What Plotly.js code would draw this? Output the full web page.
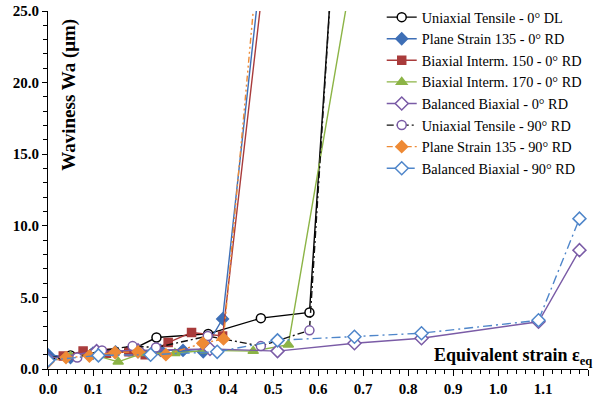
<!DOCTYPE html>
<html>
<head>
<meta charset="utf-8">
<script src="https://cdn.plot.ly/plotly-3.0.1.min.js"></script>
<style>html,body{margin:0;padding:0;background:#fff;}#chart{width:597px;height:403px;}</style>
</head>
<body>
<div id="chart"></div>
<script>
// Series names
var names = [
  "Uniaxial Tensile - 0° DL",
  "Plane Strain 135 - 0° RD",
  "Biaxial Interm. 150 - 0° RD",
  "Biaxial Interm. 170 - 0° RD",
  "Balanced Biaxial - 0° RD",
  "Uniaxial Tensile - 90° RD",
  "Plane Strain 135 - 90° RD",
  "Balanced Biaxial - 90° RD"
];

// Equivalent strain (x) and waviness Wa in µm (y)
var uniax0_x = [0.0, 0.05, 0.10, 0.18, 0.241, 0.356, 0.473, 0.581, 0.632];
var uniax0_y = [0.8, 0.95, 1.1, 1.25, 2.2, 2.45, 3.55, 3.95, 28.3];

var plane0_x = [0.0, 0.05, 0.10, 0.15, 0.20, 0.25, 0.30, 0.345, 0.388, 0.47];
var plane0_y = [1.0, 0.8, 1.1, 1.2, 1.2, 1.3, 1.3, 1.2, 3.5, 27.0];

var biax150_x = [0.034, 0.078, 0.13, 0.18, 0.216, 0.267, 0.319, 0.388, 0.48];
var biax150_y = [0.9, 1.25, 1.1, 1.2, 1.0, 1.85, 2.55, 2.3, 27.5];

var biax170_x = [0.0, 0.05, 0.10, 0.156, 0.21, 0.282, 0.35, 0.456, 0.534, 0.67];
var biax170_y = [0.7, 0.9, 1.0, 0.5, 1.1, 1.1, 1.3, 1.25, 1.7, 26.6];

var bal0_x = [0.0, 0.108, 0.20, 0.36, 0.51, 0.681, 0.83, 1.09, 1.181];
var bal0_y = [0.7, 1.25, 1.3, 1.4, 1.25, 1.8, 2.15, 3.3, 8.3];

var uniax90_x = [0.0, 0.065, 0.12, 0.188, 0.24, 0.355, 0.473, 0.581, 0.632];
var uniax90_y = [0.7, 0.8, 1.3, 1.6, 1.5, 2.3, 1.6, 2.7, 28.3];

var plane90_x = [0.0, 0.04, 0.092, 0.149, 0.20, 0.262, 0.344, 0.39, 0.465];
var plane90_y = [0.5, 0.8, 0.9, 1.15, 1.2, 1.0, 1.8, 2.1, 28.1];

var bal90_x = [0.0, 0.112, 0.228, 0.376, 0.51, 0.681, 0.83, 1.09, 1.181];
var bal90_y = [0.6, 0.95, 1.0, 1.2, 2.0, 2.25, 2.5, 3.4, 10.5];

var xTickVals = [0.0, 0.1, 0.2, 0.3, 0.4, 0.5, 0.6, 0.7, 0.8, 0.9, 1.0, 1.1, 1.2];
var yTickVals = [0.0, 5.0, 10.0, 15.0, 20.0, 25.0];

var cBlack = "#000000", cBlue = "#3E6FB6", cRed = "#A93B3B", cGreen = "#8CB446",
    cPurple = "#7A5BA6", cOrange = "#EE8A35", cBlue2 = "#4F86CA";

var SERIF = "Liberation Serif";

function tr(name, x, y, color, dash, sym, mfill, mline, msize) {
  return {
    type: "scatter", mode: "lines+markers", name: name, x: x, y: y,
    line: {color: color, width: 1.4, dash: dash},
    marker: {symbol: sym, size: msize, color: mfill, line: {color: mline, width: 1.5}}
  };
}

var data = [
  tr(names[0], uniax0_x, uniax0_y, cBlack, "solid", "circle", "#ffffff", cBlack, 9),
  tr(names[1], plane0_x, plane0_y, cBlue, "solid", "diamond", cBlue, cBlue, 9),
  tr(names[2], biax150_x, biax150_y, cRed, "solid", "square", cRed, cRed, 8),
  tr(names[3], biax170_x, biax170_y, cGreen, "solid", "triangle-up", cGreen, cGreen, 9),
  tr(names[4], bal0_x, bal0_y, cPurple, "solid", "diamond", "#ffffff", cPurple, 10),
  tr(names[5], uniax90_x, uniax90_y, "#111111", "7px,3px,2px,3px", "circle", "#ffffff", cPurple, 9),
  tr(names[6], plane90_x, plane90_y, cOrange, "6px,3px,2px,3px,2px,3px", "diamond", cOrange, cOrange, 9),
  tr(names[7], bal90_x, bal90_y, cBlue2, "9px,4px,2px,4px", "diamond", "#ffffff", cBlue2, 10)
];

var tickFont = {family: SERIF, size: 15, color: "#000", weight: "bold"};

var layout = {
  width: 597, height: 403,
  margin: {l: 48, r: 9, t: 11, b: 34, autoexpand: false},
  paper_bgcolor: "#ffffff", plot_bgcolor: "#ffffff",
  font: {family: SERIF, color: "#000"},
  showlegend: true,
  legend: {
    x: 0.618, y: 1.027, xanchor: "left", yanchor: "top",
    font: {family: SERIF, size: 14.3, color: "#000"},
    bgcolor: "rgba(255,255,255,0)", borderwidth: 0, tracegroupgap: 0
  },
  xaxis: {
    range: [0, 1.2], tickvals: xTickVals, tickformat: ".1f",
    ticks: "outside", ticklen: 6, tickwidth: 1, tickcolor: "#000",
    showline: true, linecolor: "#000", linewidth: 1, showgrid: false, zeroline: false,
    tickfont: tickFont,
    minor: {dtick: 0.02, ticks: "outside", ticklen: 4, tickcolor: "#000", showgrid: false}
  },
  yaxis: {
    range: [0, 25], tickvals: yTickVals, tickformat: ".1f",
    ticks: "outside", ticklen: 5, tickwidth: 1, tickcolor: "#000",
    showline: true, linecolor: "#000", linewidth: 1, showgrid: false, zeroline: false,
    tickfont: tickFont,
    minor: {dtick: 1, ticks: "outside", ticklen: 4, tickcolor: "#000", showgrid: false}
  },
  annotations: [
    {
      text: "<b>Waviness Wa (μm)</b>", xref: "paper", yref: "paper",
      x: 0.04, y: 0.765, xanchor: "center", yanchor: "middle", textangle: -90, showarrow: false,
      font: {family: SERIF, size: 19, color: "#000"}
    },
    {
      text: "<b>Equivalent strain ε<sub>eq</sub></b>", xref: "paper", yref: "paper",
      x: 1.011, y: 0.034, xanchor: "right", yanchor: "middle", showarrow: false,
      font: {family: SERIF, size: 18, color: "#000"}
    }
  ]
};

Plotly.newPlot("chart", data, layout, {displayModeBar: false, staticPlot: true});
</script>
</body>
</html>
